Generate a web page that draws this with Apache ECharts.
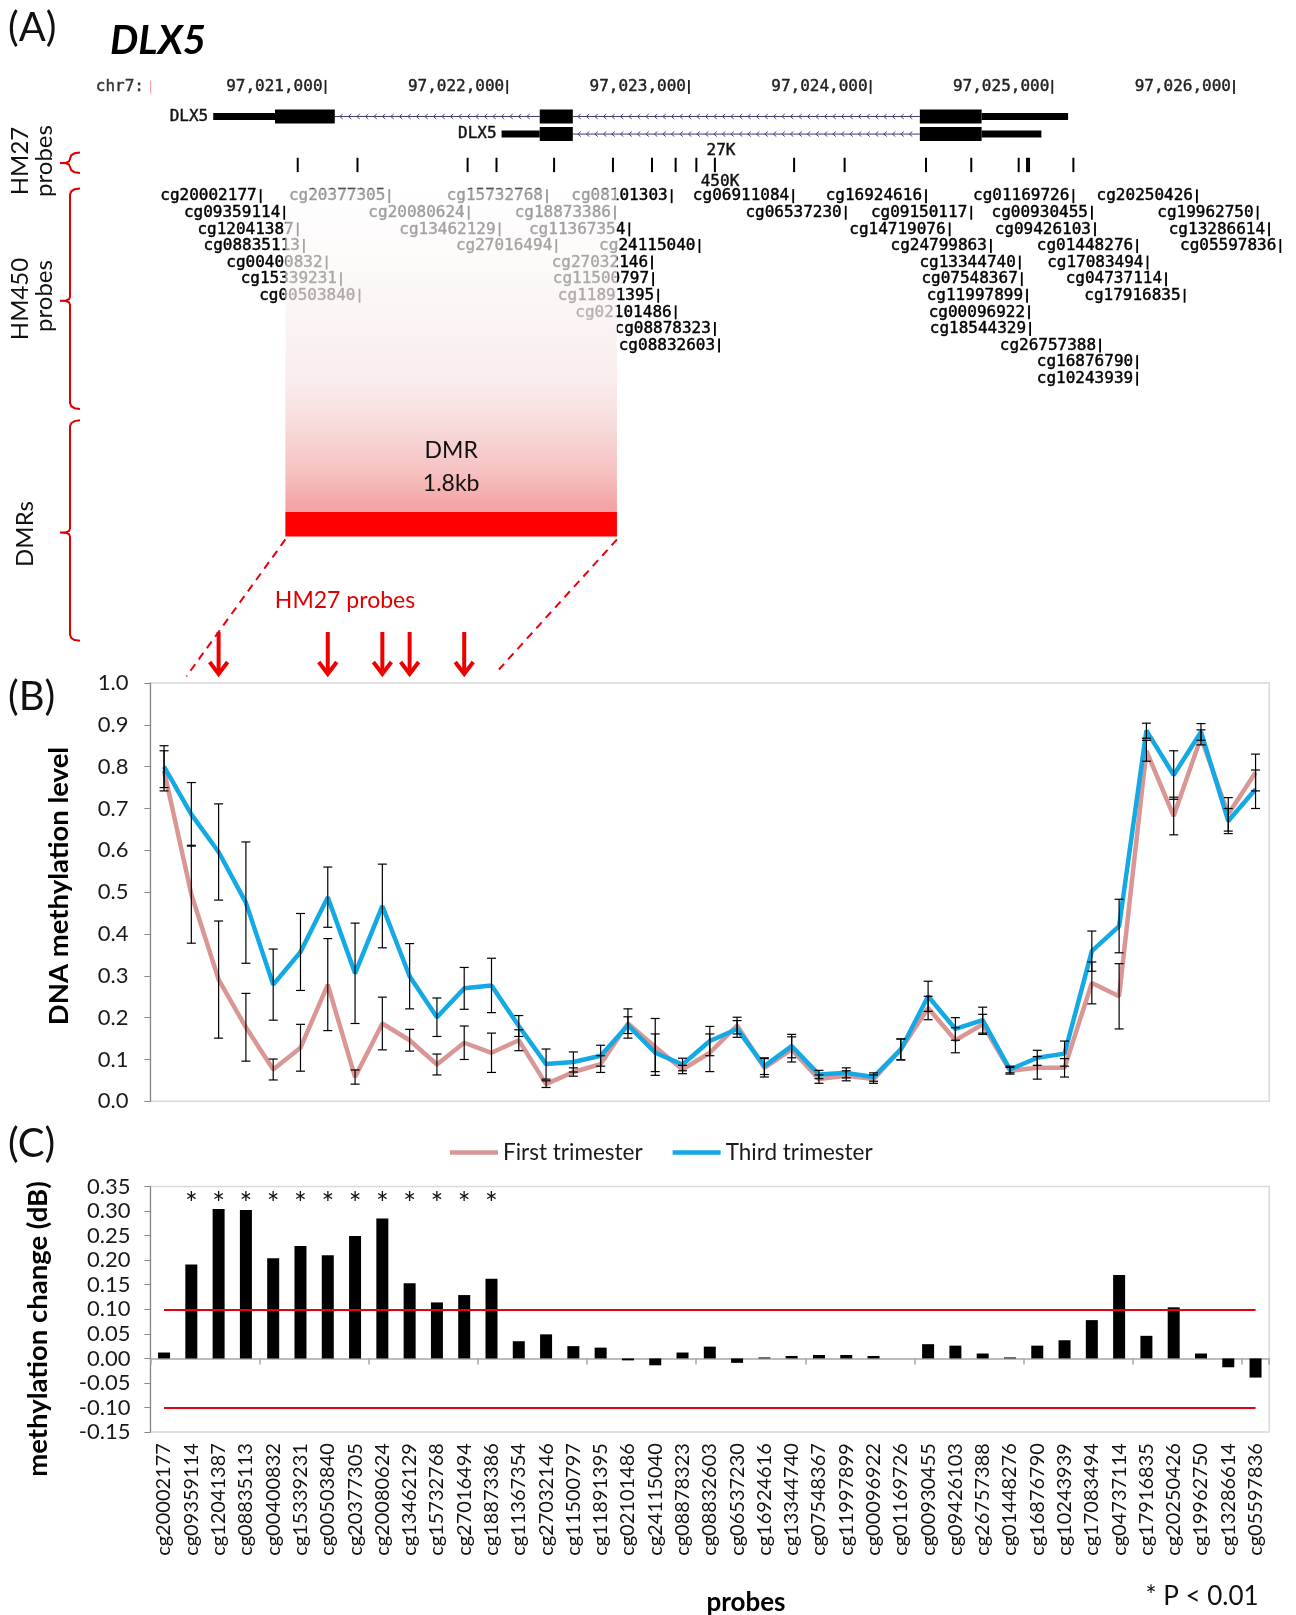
<!DOCTYPE html>
<html>
<head>
<meta charset="utf-8">
<title>DLX5 methylation</title>
<script src="https://cdn.jsdelivr.net/npm/echarts@6/dist/echarts.min.js"></script>
<style>
  html, body { margin: 0; padding: 0; background: #fff; }
  #chart { width: 1296px; height: 1615px; }
</style>
</head>
<body>
<div id="chart"></div>
<script>
// ---------- Panel B / C data: probes ordered along the locus ----------
const probes = [
  'cg20002177','cg09359114','cg12041387','cg08835113','cg00400832','cg15339231','cg00503840',
  'cg20377305','cg20080624','cg13462129','cg15732768','cg27016494','cg18873386','cg11367354',
  'cg27032146','cg11500797','cg11891395','cg02101486','cg24115040','cg08878323','cg08832603',
  'cg06537230','cg16924616','cg13344740','cg07548367','cg11997899','cg00096922','cg01169726',
  'cg00930455','cg09426103','cg26757388','cg01448276','cg16876790','cg10243939','cg17083494',
  'cg04737114','cg17916835','cg20250426','cg19962750','cg13286614','cg05597836'
];

// mean DNA methylation level (beta) and SD per trimester
const firstTrimester = [
  0.790, 0.495, 0.291, 0.177, 0.076, 0.128, 0.279, 0.058, 0.186, 0.146, 0.088, 0.140, 0.116, 0.146,
  0.041, 0.070, 0.089, 0.186, 0.130, 0.076, 0.116, 0.181, 0.080, 0.124, 0.053, 0.061, 0.053, 0.124,
  0.223, 0.146, 0.184, 0.073, 0.080, 0.080, 0.283, 0.251, 0.838, 0.682, 0.870, 0.686, 0.786
];
const firstTrimesterSD = [
  0.048, 0.117, 0.140, 0.081, 0.025, 0.056, 0.110, 0.017, 0.063, 0.026, 0.025, 0.040, 0.047, 0.025,
  0.008, 0.010, 0.020, 0.035, 0.068, 0.010, 0.045, 0.020, 0.022, 0.030, 0.010, 0.012, 0.010, 0.025,
  0.028, 0.030, 0.024, 0.008, 0.027, 0.022, 0.050, 0.078, 0.025, 0.045, 0.018, 0.040, 0.044
];
const thirdTrimester = [
  0.800, 0.686, 0.596, 0.475, 0.279, 0.357, 0.488, 0.306, 0.467, 0.299, 0.201, 0.270, 0.277, 0.180,
  0.089, 0.094, 0.109, 0.182, 0.116, 0.088, 0.144, 0.173, 0.084, 0.132, 0.064, 0.068, 0.058, 0.124,
  0.251, 0.173, 0.194, 0.076, 0.104, 0.114, 0.359, 0.419, 0.886, 0.780, 0.883, 0.670, 0.746
];
const thirdTrimesterSD = [
  0.050, 0.076, 0.115, 0.145, 0.085, 0.092, 0.072, 0.120, 0.100, 0.078, 0.046, 0.050, 0.065, 0.025,
  0.036, 0.024, 0.025, 0.020, 0.045, 0.015, 0.035, 0.020, 0.020, 0.028, 0.010, 0.012, 0.010, 0.025,
  0.036, 0.027, 0.031, 0.008, 0.018, 0.030, 0.048, 0.064, 0.018, 0.058, 0.020, 0.030, 0.046
];

// methylation change between trimesters (delta beta)
const methylationChange = [
  0.012, 0.191, 0.304, 0.302, 0.204, 0.229, 0.210, 0.249, 0.285, 0.153, 0.114, 0.129, 0.162, 0.035,
  0.049, 0.025, 0.022, -0.004, -0.014, 0.012, 0.024, -0.009, 0.002, 0.005, 0.007, 0.007, 0.005, 0.000,
  0.029, 0.026, 0.010, 0.002, 0.026, 0.037, 0.078, 0.170, 0.046, 0.104, 0.010, -0.018, -0.039
];
const changeThresholds = [0.10, -0.10];
const significantProbes = [
  'cg09359114','cg12041387','cg08835113','cg00400832','cg15339231','cg00503840',
  'cg20377305','cg20080624','cg13462129','cg15732768','cg27016494','cg18873386'
];
const hm27ArrowProbes = ['cg12041387','cg00503840','cg20080624','cg13462129','cg27016494'];

// ---------- Panel A data: genome browser view of chr7 ----------
const rulerPositions = [97021000, 97022000, 97023000, 97024000, 97025000, 97026000];
const transcripts = [
  { name: 'DLX5', lane: 0, txStart: 97020382, txEnd: 97025087, cdsStart: 97020722, cdsEnd: 97024611,
    exons: [[97020382, 97021051], [97022179, 97022361], [97024271, 97025087]] },
  { name: 'DLX5', lane: 1, txStart: 97021969, txEnd: 97024940, cdsStart: 97022179, cdsEnd: 97024611,
    exons: [[97021969, 97022361], [97024271, 97024940]] }
];
const hm27Positions = [
  97020847, 97021176, 97021782, 97021941, 97022258, 97022582, 97022797, 97022927, 97023041,
  97023143, 97023579, 97023857, 97024305, 97024554, 97024815, 97024861, 97024872, 97025116
];
// [probe id, position, display row]
const hm450Probes = [
  ['cg20002177', 97020643, 0], ['cg20377305', 97021351, 0], ['cg15732768', 97022219, 0], ['cg08101303', 97022905, 0],
  ['cg06911084', 97023574, 0], ['cg16924616', 97024305, 0], ['cg01169726', 97025116, 0], ['cg20250426', 97025796, 0],
  ['cg09359114', 97020773, 1], ['cg20080624', 97021788, 1], ['cg18873386', 97022593, 1], ['cg06537230', 97023863, 1],
  ['cg09150117', 97024554, 1], ['cg00930455', 97025218, 1], ['cg19962750', 97026130, 1],
  ['cg12041387', 97020847, 2], ['cg13462129', 97021958, 2], ['cg11367354', 97022672, 2], ['cg14719076', 97024435, 2],
  ['cg09426103', 97025235, 2], ['cg13286614', 97026193, 2],
  ['cg08835113', 97020881, 3], ['cg27016494', 97022270, 3], ['cg24115040', 97023058, 3], ['cg24799863', 97024662, 3],
  ['cg01448276', 97025467, 3], ['cg05597836', 97026255, 3],
  ['cg00400832', 97021006, 4], ['cg27032146', 97022797, 4], ['cg13344740', 97024821, 4], ['cg17083494', 97025524, 4],
  ['cg15339231', 97021085, 5], ['cg11500797', 97022803, 5], ['cg07548367', 97024832, 5], ['cg04737114', 97025626, 5],
  ['cg00503840', 97021187, 6], ['cg11891395', 97022831, 6], ['cg11997899', 97024861, 6], ['cg17916835', 97025728, 6],
  ['cg02101486', 97022927, 7], ['cg00096922', 97024872, 7],
  ['cg08878323', 97023143, 8], ['cg18544329', 97024878, 8],
  ['cg08832603', 97023166, 9], ['cg26757388', 97025263, 9],
  ['cg16876790', 97025467, 10],
  ['cg10243939', 97025467, 11]
];
const dmrRegion = [97020779, 97022604];
const dmrLabel = ['DMR', '1.8kb'];

// ---------- layout ----------
const FONT = 'Lato, "Open Sans", sans-serif';
const MONO = '"DejaVu Sans Mono", "Liberation Mono", monospace';
const PINK = '#d99694';
const BLUE = '#12a9e4';
const RED = '#e8000b';
// vertical lanes of the browser tracks (label rows sit on 0..11)
const TRACK = { ruler: -6.58, tx: [-4.8, -3.74], hm27: -1.88, dmrTop: -0.46, dmrBar: 19.03, dmrBottom: 20.5, dmrText: [15.35, 17.3] };
const C_MAX = 0.35;

const fmtPos = v => String(v).replace(/\B(?=(\d{3})+(?!\d))/g, ',');
const idx = name => probes.indexOf(name);
const monoStyle = (text, x, y, fill) => ({ text, x, y, align: 'right', verticalAlign: 'middle',
  fontFamily: MONO, fontSize: 16, fill, stroke: fill, lineWidth: 0.45 });

function rulerItem(params, api) {
  const p = api.coord([api.value(0), TRACK.ruler]);
  return { type: 'group', children: [
    { type: 'text', style: monoStyle(fmtPos(api.value(0)), p[0] - 3, p[1], '#222') },
    { type: 'rect', shape: { x: p[0] - 0.9, y: p[1] - 7, width: 1.8, height: 14 }, style: { fill: '#222' } }
  ] };
}

function transcriptItem(params, api) {
  const t = transcripts[params.dataIndex];
  const yc = api.coord([t.txStart, TRACK.tx[t.lane]])[1];
  const X = v => api.coord([v, TRACK.tx[t.lane]])[0];
  const children = [];
  // introns with strand chevrons
  for (let i = 0; i < t.exons.length - 1; i++) {
    const a = X(t.exons[i][1]), b = X(t.exons[i + 1][0]);
    children.push({ type: 'line', shape: { x1: a, y1: yc, x2: b, y2: yc }, style: { stroke: '#3b3b6e', lineWidth: 1 } });
    for (let x = a + 6; x < b - 4; x += 8.5) {
      children.push({ type: 'polyline', shape: { points: [[x + 2, yc - 2.5], [x - 1, yc], [x + 2, yc + 2.5]] },
        style: { stroke: '#4a4a80', lineWidth: 1, fill: null } });
    }
  }
  // exons: thin UTR parts, thick coding parts
  t.exons.forEach(([s, e]) => {
    const segs = [[s, Math.min(e, t.cdsStart), false], [Math.max(s, t.cdsStart), Math.min(e, t.cdsEnd), true], [Math.max(s, t.cdsEnd), e, false]];
    segs.forEach(([a, b, thick]) => {
      if (b <= a) return;
      const h = thick ? 14 : 7;
      children.push({ type: 'rect', shape: { x: X(a), y: yc - h / 2, width: X(b) - X(a), height: h }, style: { fill: '#000' } });
    });
  });
  children.push({ type: 'text', style: monoStyle(t.name, X(t.txStart) - 5, yc, '#111') });
  return { type: 'group', children };
}

function hm27Item(params, api) {
  const p = api.coord([api.value(0), TRACK.hm27]);
  return { type: 'rect', shape: { x: p[0] - 1, y: p[1] - 7.2, width: 2, height: 14.4 }, style: { fill: '#000' } };
}

function hm450Item(params, api) {
  const d = hm450Probes[params.dataIndex];
  const p = api.coord([d[1], d[2]]);
  return { type: 'group', children: [
    { type: 'text', style: monoStyle(d[0], p[0] - 4, p[1], '#000') },
    { type: 'rect', shape: { x: p[0] - 0.9, y: p[1] - 7, width: 1.8, height: 14 }, style: { fill: '#000' } }
  ] };
}

function dmrItem(params, api) {
  const s = api.value(0), e = api.value(1);
  const a = api.coord([s, TRACK.dmrTop]), b = api.coord([e, TRACK.dmrBar]), c = api.coord([e, TRACK.dmrBottom]);
  const x0 = a[0], x1 = b[0], cx = (x0 + x1) / 2;
  const t1 = api.coord([s, TRACK.dmrText[0]])[1], t2 = api.coord([s, TRACK.dmrText[1]])[1];
  const dash = { stroke: RED, lineWidth: 2, lineDash: [8, 6] };
  return { type: 'group', children: [
    { type: 'rect', shape: { x: x0, y: a[1], width: x1 - x0, height: b[1] - a[1] },
      style: { fill: new echarts.graphic.LinearGradient(0, 0, 0, 1, [
        { offset: 0, color: 'rgba(255,255,255,0.6)' },
        { offset: 0.35, color: 'rgba(250,242,242,0.7)' },
        { offset: 0.6, color: 'rgba(249,234,234,0.92)' },
        { offset: 0.75, color: 'rgba(248,216,216,1)' },
        { offset: 0.88, color: 'rgba(246,192,192,1)' },
        { offset: 1, color: 'rgba(243,160,160,1)' } ]) } },
    { type: 'rect', shape: { x: x0, y: b[1], width: x1 - x0, height: c[1] - b[1] }, style: { fill: '#ff0000' } },
    { type: 'text', style: { text: dmrLabel[0], x: cx, y: t1, align: 'center', verticalAlign: 'middle', fontFamily: FONT, fontSize: 23, fill: '#111' } },
    { type: 'text', style: { text: dmrLabel[1], x: cx, y: t2, align: 'center', verticalAlign: 'middle', fontFamily: FONT, fontSize: 23, fill: '#111' } },
    { type: 'line', shape: { x1: x0, y1: c[1] + 3, x2: x0 - 99, y2: c[1] + 140 }, style: dash },
    { type: 'line', shape: { x1: x1, y1: c[1] + 3, x2: x1 - 118, y2: c[1] + 133 }, style: dash }
  ] };
}

function errorBarItem(params, api) {
  const x = api.value(0), v = api.value(1), e = api.value(2);
  const hi = api.coord([x, v + e]), lo = api.coord([x, v - e]);
  const cap = 4.5, st = { stroke: '#000', lineWidth: 1.2 };
  return { type: 'group', children: [
    { type: 'line', shape: { x1: hi[0], y1: hi[1], x2: lo[0], y2: lo[1] }, style: st },
    { type: 'line', shape: { x1: hi[0] - cap, y1: hi[1], x2: hi[0] + cap, y2: hi[1] }, style: st },
    { type: 'line', shape: { x1: lo[0] - cap, y1: lo[1], x2: lo[0] + cap, y2: lo[1] }, style: st }
  ] };
}

function arrowItem(params, api) {
  const p = api.coord([api.value(0), 1.0]);
  const tip = p[1] - 8, top = tip - 43;
  const st = { stroke: '#ee0000', lineWidth: 4, fill: null };
  return { type: 'group', children: [
    { type: 'line', shape: { x1: p[0], y1: top, x2: p[0], y2: tip - 3 }, style: st },
    { type: 'polyline', shape: { points: [[p[0] - 9, tip - 13], [p[0], tip - 1], [p[0] + 9, tip - 13]] }, style: st }
  ] };
}

function starItem(params, api) {
  const p = api.coord([api.value(0), C_MAX]);
  return { type: 'text', style: { text: '*', x: p[0], y: p[1] + 18, align: 'center', verticalAlign: 'middle',
    fontFamily: FONT, fontSize: 30, fill: '#111' } };
}

// red curly bracket beside a track group
const bracket = (top, mid, bot) => ({
  type: 'polyline',
  shape: { points: [
    [80, top], [74.5, top + 0.8], [71.3, top + 2.8], [70, top + 6],
    [70, mid - 4], [69, mid - 1.5], [66, mid - 0.3], [60, mid], [66, mid + 0.3], [69, mid + 1.5], [70, mid + 4],
    [70, bot - 6], [71.3, bot - 2.8], [74.5, bot - 0.8], [80, bot] ] },
  style: { stroke: '#e00000', lineWidth: 2, fill: null }
});
const vtext = (text, x, y, size, extra) => ({
  type: 'text', x, y, rotation: Math.PI / 2,
  style: Object.assign({ text, align: 'center', verticalAlign: 'middle', fontFamily: FONT, fontSize: size, fill: '#111' }, extra || {})
});
const htext = (text, x, y, size, extra) => ({
  type: 'text', x, y,
  style: Object.assign({ text, align: 'left', verticalAlign: 'middle', fontFamily: FONT, fontSize: size, fill: '#111' }, extra || {})
});

const axisGray = '#868686';
const chart = echarts.init(document.getElementById('chart'), null, { renderer: 'canvas', width: 1296, height: 1615 });

chart.setOption({
  animation: false,
  backgroundColor: '#fff',
  grid: [
    { left: 98.4, top: 70, width: 1190.1, height: 664, show: false, containLabel: false },
    { left: 150.4, top: 683, width: 1118.8, height: 418.3, show: true, borderColor: '#d9d9d9', borderWidth: 1.5, containLabel: false },
    { left: 150.4, top: 1186.5, width: 1118.8, height: 245.6, show: true, borderColor: '#d9d9d9', borderWidth: 1.5, containLabel: false }
  ],
  xAxis: [
    { gridIndex: 0, type: 'value', min: 97019750, max: 97026300, show: false },
    { gridIndex: 1, type: 'category', data: probes, axisLine: { show: false }, axisTick: { show: false }, axisLabel: { show: false }, splitLine: { show: false } },
    { gridIndex: 2, type: 'category', data: probes, position: 'bottom', axisLine: { show: false, onZero: false }, axisTick: { show: false },
      axisLabel: { rotate: 90, interval: 0, margin: 11, fontFamily: FONT, fontSize: 20, color: '#111' }, splitLine: { show: false } },
    { gridIndex: 2, type: 'category', data: probes, position: 'top',
      axisLine: { show: true, onZero: true, lineStyle: { color: '#a6a6a6', width: 1.5 } },
      axisTick: { show: true, inside: true, length: 6, lineStyle: { color: '#a6a6a6', width: 1.5 } },
      axisLabel: { show: false }, splitLine: { show: false } }
  ],
  yAxis: [
    { gridIndex: 0, type: 'value', min: -7.6, max: 32.4, inverse: true, show: false },
    { gridIndex: 1, type: 'value', min: 0, max: 1, interval: 0.1,
      axisLine: { show: true, lineStyle: { color: axisGray, width: 1.2 } },
      axisTick: { show: true, length: 6, lineStyle: { color: axisGray } },
      axisLabel: { margin: 22, fontFamily: FONT, fontSize: 22, color: '#1a1a1a', formatter: v => v.toFixed(1) },
      splitLine: { show: false } },
    { gridIndex: 2, type: 'value', min: -0.15, max: C_MAX, interval: 0.05,
      axisLine: { show: true, onZero: false, lineStyle: { color: axisGray, width: 1.2 } },
      axisTick: { show: true, length: 6, lineStyle: { color: axisGray } },
      axisLabel: { margin: 20, fontFamily: FONT, fontSize: 22, color: '#1a1a1a',
        formatter: v => (Math.abs(v) < 1e-9 ? 0 : v).toFixed(2) },
      splitLine: { show: false } }
  ],
  legend: {
    data: ['First trimester', 'Third trimester'], left: 445, top: 1136, icon: 'rect',
    itemWidth: 48, itemHeight: 4.5, itemGap: 30, selectedMode: false,
    textStyle: { fontFamily: FONT, fontSize: 22.5, color: '#1a1a1a' }
  },
  series: [
    // panel A
    { type: 'custom', xAxisIndex: 0, yAxisIndex: 0, renderItem: rulerItem, data: rulerPositions.map(p => [p, 0]), z: 2, silent: true },
    { type: 'custom', xAxisIndex: 0, yAxisIndex: 0, renderItem: transcriptItem, data: transcripts.map(t => [t.txStart, t.lane]), z: 2, silent: true },
    { type: 'custom', xAxisIndex: 0, yAxisIndex: 0, renderItem: hm27Item, data: hm27Positions.map(p => [p, 0]), z: 2, silent: true },
    { type: 'custom', xAxisIndex: 0, yAxisIndex: 0, renderItem: hm450Item, data: hm450Probes.map(d => [d[1], d[2]]), z: 2, silent: true },
    { type: 'custom', xAxisIndex: 0, yAxisIndex: 0, renderItem: dmrItem, data: [[dmrRegion[0], dmrRegion[1], 0]],
      encode: { x: [0, 1], y: 2 }, z: 10, silent: true },
    // panel B
    { type: 'custom', xAxisIndex: 1, yAxisIndex: 1, renderItem: arrowItem, data: hm27ArrowProbes.map(n => [idx(n), 1]), z: 5, silent: true },
    { name: 'First trimester', type: 'line', xAxisIndex: 1, yAxisIndex: 1, data: firstTrimester, color: PINK,
      symbol: 'none', lineStyle: { color: PINK, width: 4.5 }, z: 3, silent: true },
    { name: 'Third trimester', type: 'line', xAxisIndex: 1, yAxisIndex: 1, data: thirdTrimester, color: BLUE,
      symbol: 'none', lineStyle: { color: BLUE, width: 4.5 }, z: 4, silent: true },
    { type: 'custom', xAxisIndex: 1, yAxisIndex: 1, renderItem: errorBarItem,
      data: firstTrimester.map((v, i) => [i, v, firstTrimesterSD[i]]), z: 6, silent: true },
    { type: 'custom', xAxisIndex: 1, yAxisIndex: 1, renderItem: errorBarItem,
      data: thirdTrimester.map((v, i) => [i, v, thirdTrimesterSD[i]]), z: 6, silent: true },
    // panel C
    { type: 'bar', xAxisIndex: 2, yAxisIndex: 2, data: methylationChange, barWidth: 12, itemStyle: { color: '#000' }, z: 3, silent: true,
      markLine: { silent: true, symbol: 'none', label: { show: false }, lineStyle: { color: RED, width: 2, type: 'solid' },
        data: changeThresholds.map(t => [{ coord: [0, t] }, { coord: [probes.length - 1, t] }]) } },
    { type: 'custom', xAxisIndex: 2, yAxisIndex: 2, renderItem: starItem, data: significantProbes.map(n => [idx(n), C_MAX]), z: 5, silent: true }
  ],
  graphic: [
    htext('(A)', 8, 28, 40),
    htext('DLX5', 110, 41, 40, { fontWeight: 'bold', fontStyle: 'italic', fill: '#000' }),
    htext('(B)', 8, 697, 40),
    htext('(C)', 8, 1144, 40),
    { type: 'text', x: 144, y: 87, style: { text: 'chr7:', align: 'right', verticalAlign: 'middle', fontFamily: MONO, fontSize: 16, fill: '#333', stroke: '#333', lineWidth: 0.45 } },
    { type: 'rect', shape: { x: 150, y: 80.5, width: 1.2, height: 13 }, style: { fill: '#f2a6a6' } },
    { type: 'text', x: 721, y: 150.4, style: { text: '27K', align: 'center', verticalAlign: 'middle', fontFamily: MONO, fontSize: 16, fill: '#111', stroke: '#111', lineWidth: 0.45 } },
    { type: 'text', x: 720, y: 182, style: { text: '450K', align: 'center', verticalAlign: 'middle', fontFamily: MONO, fontSize: 16, fill: '#111', stroke: '#111', lineWidth: 0.45 } },
    vtext('HM27', 20, 161, 24),
    vtext('probes', 44, 161, 24),
    vtext('HM450', 20, 299, 24),
    vtext('probes', 44, 296, 24),
    vtext('DMRs', 25.5, 534, 24),
    bracket(152.5, 163, 173),
    bracket(188.5, 300.8, 409),
    bracket(420.3, 532.6, 640.8),
    { type: 'text', x: 345, y: 601, style: { text: 'HM27 probes', align: 'center', verticalAlign: 'middle', fontFamily: FONT, fontSize: 23, fill: '#e00000' } },
    vtext('DNA methylation level', 58.7, 886, 27.5, { fontWeight: 'bold', fill: '#000' }),
    vtext('methylation change (dB)', 38, 1329, 27.5, { fontWeight: 'bold', fill: '#000' }),
    { type: 'text', x: 746, y: 1603, style: { text: 'probes', align: 'center', verticalAlign: 'middle', fontFamily: FONT, fontSize: 26, fontWeight: 'bold', fill: '#000' } },
    { type: 'text', x: 1202, y: 1597, style: { text: '* P < 0.01', align: 'center', verticalAlign: 'middle', fontFamily: FONT, fontSize: 26, fill: '#111' } }
  ]
});
</script>
</body>
</html>
